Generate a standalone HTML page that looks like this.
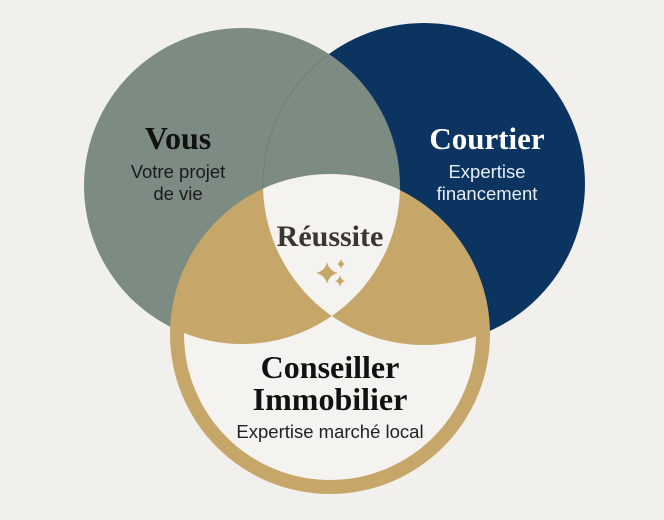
<!DOCTYPE html>
<html><head><meta charset="utf-8"><style>
html,body{margin:0;padding:0;background:#f2f0ec;}
svg{display:block}
.s{font-family:"Liberation Serif",serif;font-weight:bold;text-anchor:middle}
.t{font-family:"Liberation Sans",sans-serif;text-anchor:middle;font-size:18.5px}
</style></head><body>
<svg width="664" height="520" viewBox="0 0 664 520" xmlns="http://www.w3.org/2000/svg">
<defs>
<clipPath id="cl"><circle cx="242" cy="186" r="158"/></clipPath>
<clipPath id="cr"><circle cx="424" cy="184" r="161"/></clipPath>
<mask id="m">
<rect width="664" height="520" fill="#000"/>
<circle cx="330" cy="334" r="146" fill="#fff"/>
<circle cx="242" cy="186" r="158" fill="#000"/>
<circle cx="424" cy="184" r="161" fill="#000"/>
</mask>
</defs>
<rect width="664" height="520" fill="#f2f0ec"/>
<circle cx="424" cy="184" r="161" fill="#0b3461"/>
<circle cx="242" cy="186" r="158" fill="#7d8c82"/>
<g clip-path="url(#cl)"><circle cx="424" cy="184" r="161" fill="none" stroke="#6f7f76" stroke-width="1"/></g>
<circle cx="330" cy="334" r="160" fill="#c6a769"/>
<rect width="664" height="520" fill="#f5f3ef" mask="url(#m)"/>
<g clip-path="url(#cl)"><g clip-path="url(#cr)"><circle cx="330" cy="334" r="160" fill="#f5f3ef"/></g></g>
<text class="s" x="178" y="149" font-size="32" fill="#111">Vous</text>
<text class="t" x="178" y="178" fill="#1a1a1a">Votre projet</text>
<text class="t" x="178" y="200" fill="#1a1a1a">de vie</text>
<text class="s" x="487" y="149" font-size="31" fill="#fff">Courtier</text>
<text class="t" x="487" y="178" fill="#e8ecf2">Expertise</text>
<text class="t" x="487" y="200" fill="#e8ecf2">financement</text>
<text class="s" x="330" y="246" font-size="30" fill="#3a3632">Réussite</text>
<path d="M327 262 Q329 271 338 273 Q329 275 327 284 Q325 275 316 273 Q325 271 327 262Z" fill="#c6a769"/>
<path d="M341 259 Q342 263 345 264 Q342 265 341 269 Q340 265 337 264 Q340 263 341 259Z" fill="#c6a769"/>
<path d="M340 275 Q341 280 345 281 Q341 282 340 287 Q339 282 335 281 Q339 280 340 275Z" fill="#c6a769"/>
<text class="s" x="330" y="378" font-size="32" fill="#111">Conseiller</text>
<text class="s" x="330" y="410" font-size="32" fill="#111">Immobilier</text>
<text class="t" x="330" y="438" font-size="18" fill="#222">Expertise marché local</text>
</svg>
</body></html>
